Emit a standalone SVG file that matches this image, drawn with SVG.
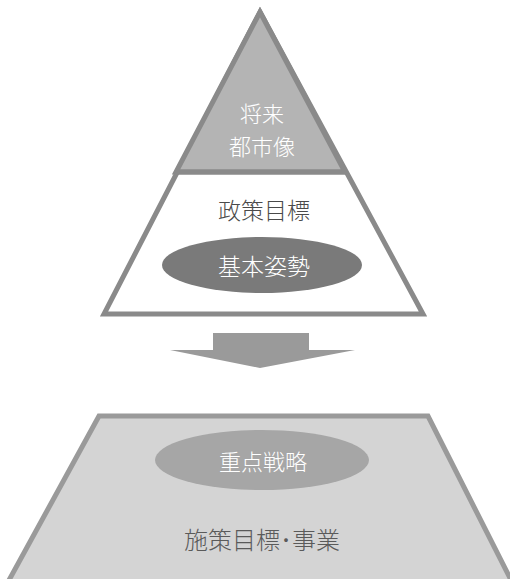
<svg xmlns="http://www.w3.org/2000/svg" width="510" height="579" viewBox="0 0 510 579">
<style>
.jp{font-family:"Noto Sans CJK JP","Noto Sans CJK SC",sans-serif;text-anchor:middle;dominant-baseline:central;font-weight:300}
.w{fill:#ffffff;font-size:22px}
.d{fill:#4a4a4a;font-size:23px}
</style>
<rect width="510" height="579" fill="#ffffff"/>
<g id="pyramid">
<polygon points="260,12 423,314 104,314" fill="#ffffff" stroke="#8a8a8a" stroke-width="5" stroke-linejoin="miter"/>
<polygon points="260,12 345,172 176,172" fill="#b4b4b4" stroke="#8a8a8a" stroke-width="5"/>
<line x1="176" y1="172" x2="345" y2="172" stroke="#8a8a8a" stroke-width="5"/>
</g>
<g id="vision">
<text class="jp w" x="262" y="112">将来</text>
<text class="jp w" x="262" y="145">都市像</text>
</g>
<g id="policy-goal">
<text class="jp d" x="264" y="209">政策目標</text>
</g>
<g id="basic-stance">
<ellipse cx="262" cy="265" rx="100" ry="28" fill="#7a7a7a"/>
<text class="jp w" x="264" y="265" style="font-size:23px">基本姿勢</text>
</g>
<g id="connectors">
<polygon points="213,333 309,333 309,350 355,350 260,368 170,350 213,350" fill="#9a9a9a"/>
</g>
<g id="base">
<polygon points="99,416 428,416 512,582 8,582" fill="#d4d4d4" stroke="#9a9a9a" stroke-width="5"/>
</g>
<g id="key-strategy">
<ellipse cx="262" cy="460" rx="107" ry="30" fill="#a6a6a6"/>
<text class="jp w" x="263" y="460">重点戦略</text>
</g>
<g id="measures">
<text class="jp d" x="262" y="538" style="fill:#5a5a5a;font-size:24px">施策目標･事業</text>
</g>
</svg>
